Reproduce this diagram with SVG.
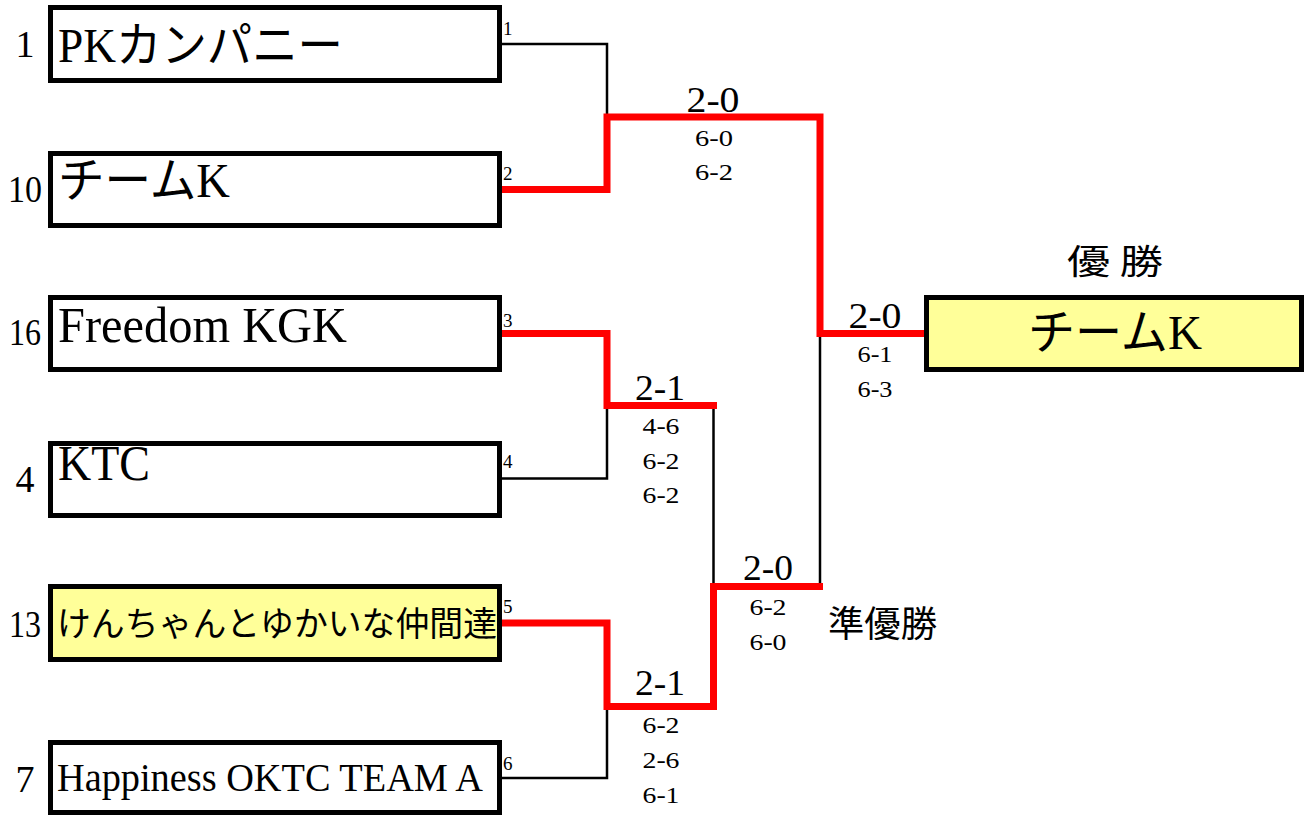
<svg xmlns="http://www.w3.org/2000/svg" width="1313" height="816" viewBox="0 0 1313 816">
<style>
.box{fill:#fff;stroke:#000;stroke-width:5}
.win{fill:#ffff99}
.name{font-family:"Liberation Serif","Noto Sans CJK JP",serif;fill:#000}
.seed{font-family:"Liberation Serif",serif;font-size:38px;text-anchor:middle}
.port{font-family:"Liberation Serif",serif;font-size:19px}
.big{font-family:"Liberation Serif",serif;font-size:36px;text-anchor:middle}
.sm{font-family:"Liberation Serif",serif;font-size:24px;text-anchor:middle}
.jp{font-family:"Noto Sans CJK JP",sans-serif;fill:#000}
.lose{fill:none;stroke:#000;stroke-width:2.5}
.w{fill:none;stroke:#ff0000;stroke-width:7;stroke-linejoin:miter}
</style>
<rect width="1313" height="816" fill="#fff"/>
<g id="connectors">
<path class="lose" d="M502,44 H607 V117"/>
<path class="lose" d="M502,478.5 H607 V405.5"/>
<path class="lose" d="M502,778 H607 V706.5"/>
<path class="lose" d="M713.5,405.5 V586.5"/>
<path class="lose" d="M820,333.5 V586.5"/>
<path class="w" d="M502,189.5 H607 V117 H820 V333.5 H924"/>
<path class="w" d="M502,333.5 H607 V405.5 H717"/>
<path class="w" d="M502,623 H607 V706.5 H713.5 V586.5 H823"/>
</g>
<g id="team1">
<rect class="box" x="50.5" y="7.5" width="449" height="73"/>
<text class="seed" x="25" y="57">1</text>
<text class="name" x="58" y="62" font-size="48" textLength="285" lengthAdjust="spacingAndGlyphs">PKカンパニー</text>
<text class="port" x="503" y="35">1</text>
</g>
<g id="team2">
<rect class="box" x="50.5" y="153.5" width="449" height="72"/>
<text class="seed" x="25" y="202" textLength="34" lengthAdjust="spacingAndGlyphs">10</text>
<text class="name" x="58" y="197" font-size="48" textLength="172" lengthAdjust="spacingAndGlyphs">チームK</text>
<text class="port" x="503" y="180">2</text>
</g>
<g id="team3">
<rect class="box" x="50.5" y="297.5" width="449" height="72"/>
<text class="seed" x="25" y="345" textLength="32" lengthAdjust="spacingAndGlyphs">16</text>
<text class="name" x="58" y="342" font-size="50" textLength="289" lengthAdjust="spacingAndGlyphs">Freedom KGK</text>
<text class="port" x="503" y="327">3</text>
</g>
<g id="team4">
<rect class="box" x="50.5" y="443.5" width="449" height="72"/>
<text class="seed" x="25" y="492">4</text>
<text class="name" x="58" y="480" font-size="50" textLength="92" lengthAdjust="spacingAndGlyphs">KTC</text>
<text class="port" x="503" y="468">4</text>
</g>
<g id="team5">
<rect class="box win" x="50.5" y="586.5" width="449" height="73"/>
<text class="seed" x="25" y="637" textLength="32" lengthAdjust="spacingAndGlyphs">13</text>
<text class="name" x="57" y="636" font-size="34" textLength="440" lengthAdjust="spacingAndGlyphs">けんちゃんとゆかいな仲間達</text>
<text class="port" x="503" y="613">5</text>
</g>
<g id="team6">
<rect class="box" x="50.5" y="742.5" width="449" height="70"/>
<text class="seed" x="25" y="792">7</text>
<text class="name" x="57" y="791" font-size="40" textLength="426" lengthAdjust="spacingAndGlyphs">Happiness OKTC TEAM A</text>
<text class="port" x="503" y="770">6</text>
</g>
<g id="champion">
<text class="jp" x="1115" y="274" font-size="34" text-anchor="middle" textLength="96" lengthAdjust="spacingAndGlyphs">優 勝</text>
<rect class="box win" x="926.5" y="297.5" width="375" height="72"/>
<text class="name" x="1115" y="349" font-size="48" text-anchor="middle" textLength="174" lengthAdjust="spacingAndGlyphs">チームK</text>
</g>
<g id="runnerup">
<text class="jp" x="828" y="637" font-size="36" textLength="109" lengthAdjust="spacingAndGlyphs">準優勝</text>
</g>
<g id="scores">
<text class="big" x="713" y="112" textLength="53" lengthAdjust="spacingAndGlyphs">2-0</text>
<text class="sm" x="714" y="146" textLength="38" lengthAdjust="spacingAndGlyphs">6-0</text>
<text class="sm" x="714" y="180" textLength="38" lengthAdjust="spacingAndGlyphs">6-2</text>
<text class="big" x="660" y="400" textLength="50" lengthAdjust="spacingAndGlyphs">2-1</text>
<text class="sm" x="661" y="434" textLength="37" lengthAdjust="spacingAndGlyphs">4-6</text>
<text class="sm" x="661" y="469" textLength="37" lengthAdjust="spacingAndGlyphs">6-2</text>
<text class="sm" x="661" y="503" textLength="37" lengthAdjust="spacingAndGlyphs">6-2</text>
<text class="big" x="660" y="695" textLength="50" lengthAdjust="spacingAndGlyphs">2-1</text>
<text class="sm" x="661" y="733" textLength="37" lengthAdjust="spacingAndGlyphs">6-2</text>
<text class="sm" x="661" y="768" textLength="37" lengthAdjust="spacingAndGlyphs">2-6</text>
<text class="sm" x="661" y="803" textLength="37" lengthAdjust="spacingAndGlyphs">6-1</text>
<text class="big" x="768" y="580" textLength="50" lengthAdjust="spacingAndGlyphs">2-0</text>
<text class="sm" x="768" y="615" textLength="37" lengthAdjust="spacingAndGlyphs">6-2</text>
<text class="sm" x="768" y="650" textLength="37" lengthAdjust="spacingAndGlyphs">6-0</text>
<text class="big" x="875" y="328" textLength="53" lengthAdjust="spacingAndGlyphs">2-0</text>
<text class="sm" x="875" y="362" textLength="35" lengthAdjust="spacingAndGlyphs">6-1</text>
<text class="sm" x="875" y="397" textLength="35" lengthAdjust="spacingAndGlyphs">6-3</text>
</g>
</svg>
